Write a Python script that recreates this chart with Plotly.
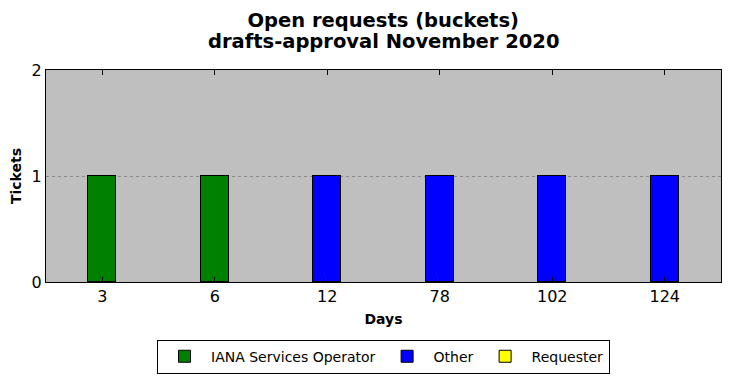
import plotly.graph_objects as go

days = ["3", "6", "12", "78", "102", "124"]
iana = [1, 1, 0, 0, 0, 0]
other = [0, 0, 1, 1, 1, 1]
requester = [0, 0, 0, 0, 0, 0]

title_line1 = "Open requests (buckets)"
title_line2 = "drafts-approval November 2020"

series = [
    ("IANA Services Operator", iana, "#008000"),
    ("Other", other, "#0000ff"),
    ("Requester", requester, "#ffff00"),
]

fig = go.Figure()
for name, vals, col in series:
    fig.add_trace(go.Bar(
        x=days, y=vals, name=name, width=0.25,
        marker=dict(color=col, line=dict(color="black", width=1)),
    ))

font = "DejaVu Sans, sans-serif"
fig.update_layout(
    width=730, height=378,
    barmode="stack",
    paper_bgcolor="white", plot_bgcolor="#bfbfbf",
    margin=dict(l=38, r=17, t=62, b=104, autoexpand=False),
    font=dict(family=font, color="black"),
    title=dict(text="<b>" + title_line1 + "</b>",
               x=0.514, xanchor="center", y=0.969, yanchor="middle",
               font=dict(size=19.5, family=font)),
    legend=dict(orientation="h", x=0.5, xanchor="center", y=-0.272, yanchor="top",
                bordercolor="black", borderwidth=1, font=dict(size=14, family=font),
                itemwidth=43, traceorder="normal"),
    bargap=0,
)
fig.add_annotation(
    text="<b>" + title_line2 + "</b>", xref="paper", yref="paper",
    x=0.5, y=1.134, xanchor="center", yanchor="middle", showarrow=False,
    font=dict(size=19.5, family=font, color="black"),
)
fig.update_xaxes(
    type="category", showline=True, linecolor="black", linewidth=1, mirror="allticks",
    ticks="inside", ticklen=5, tickcolor="black", showgrid=False, automargin=False,
    tickfont=dict(size=16), title=dict(text="<b>Days</b>", font=dict(size=14), standoff=8),
)
fig.update_yaxes(
    range=[0, 2], tickvals=[0, 1, 2], showline=True, linecolor="black", linewidth=1,
    mirror=True, ticks="", showgrid=True, gridcolor="#8a8a8a", griddash="dot", gridwidth=1,
    zeroline=False, automargin=False, tickfont=dict(size=16),
    title=dict(text="<b>Tickets</b>", font=dict(size=14), standoff=8),
)
fig.write_html("out.html")
